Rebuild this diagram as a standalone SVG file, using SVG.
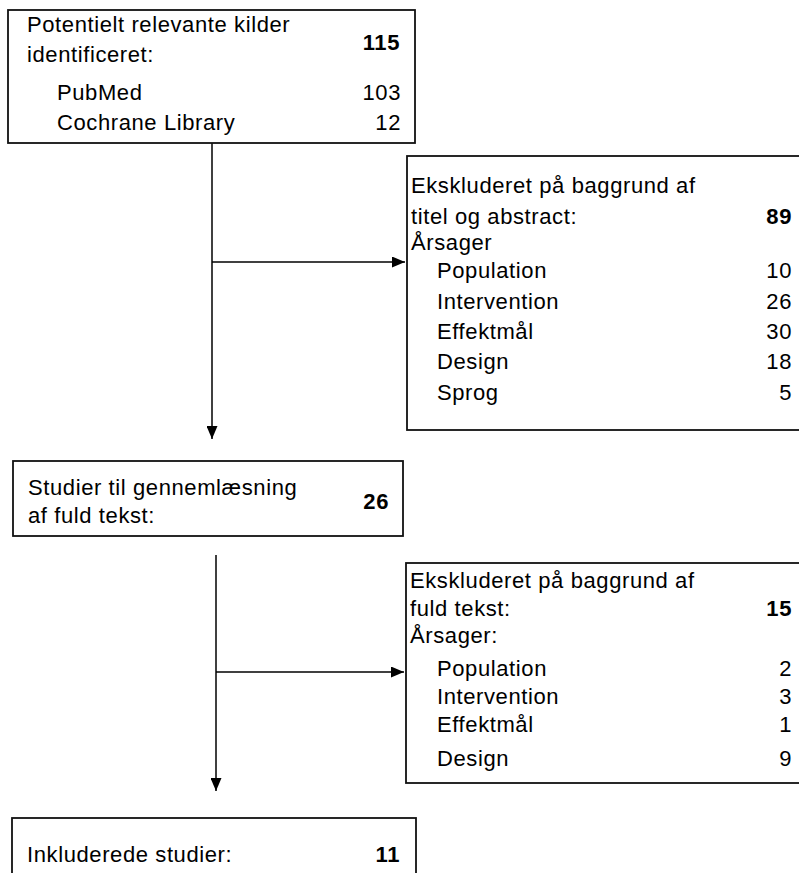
<svg xmlns="http://www.w3.org/2000/svg" width="799" height="873" viewBox="0 0 799 873">
<style>
.box{fill:#fff;stroke:#111;stroke-width:1.8}
text{font-family:"Liberation Sans",Arial,sans-serif;font-size:22px;fill:#000;letter-spacing:0.6px}
.b{font-weight:bold}
.r{text-anchor:end}
.ln{stroke:#000;stroke-width:1.5;fill:none}
</style>
<defs>
<marker id="ah" viewBox="0 0 13 11" refX="13" refY="5.5" markerWidth="13" markerHeight="11" markerUnits="userSpaceOnUse" orient="auto">
<path d="M0,0 L13,5.5 L0,11 Z" fill="#000"/>
</marker>
</defs>
<rect width="799" height="873" fill="#fff"/>
<g id="connectors">
<line class="ln" x1="212" y1="143" x2="212" y2="439" marker-end="url(#ah)"/>
<line class="ln" x1="212" y1="262" x2="405" y2="262" marker-end="url(#ah)"/>
<line class="ln" x1="216" y1="555" x2="216" y2="791" marker-end="url(#ah)"/>
<line class="ln" x1="216" y1="672" x2="404" y2="672" marker-end="url(#ah)"/>
</g>
<g id="n1">
<rect class="box" x="8" y="10" width="407" height="133"/>
<text x="27" y="32">Potentielt relevante kilder</text>
<text x="27" y="62">identificeret:</text>
<text class="b r" x="400" y="50">115</text>
<text x="57" y="100">PubMed</text>
<text class="r" x="401" y="100">103</text>
<text x="57" y="130">Cochrane Library</text>
<text class="r" x="401" y="130">12</text>
</g>
<g id="n2">
<rect class="box" x="407" y="156" width="400" height="274"/>
<text x="411" y="193">Ekskluderet på baggrund af</text>
<text x="411" y="224">titel og abstract:</text>
<text class="b r" x="792" y="224">89</text>
<text x="411" y="250">Årsager</text>
<text x="437" y="278">Population</text>
<text class="r" x="792" y="278">10</text>
<text x="437" y="309">Intervention</text>
<text class="r" x="792" y="309">26</text>
<text x="437" y="339">Effektmål</text>
<text class="r" x="792" y="339">30</text>
<text x="437" y="369">Design</text>
<text class="r" x="792" y="369">18</text>
<text x="437" y="400">Sprog</text>
<text class="r" x="792" y="400">5</text>
</g>
<g id="n3">
<rect class="box" x="13" y="461" width="390" height="75"/>
<text x="28" y="495">Studier til gennemlæsning</text>
<text x="28" y="523">af fuld tekst:</text>
<text class="b r" x="389" y="509">26</text>
</g>
<g id="n4">
<rect class="box" x="406" y="563" width="400" height="220"/>
<text x="410" y="588">Ekskluderet på baggrund af</text>
<text x="410" y="616">fuld tekst:</text>
<text class="b r" x="792" y="616">15</text>
<text x="410" y="643">Årsager:</text>
<text x="437" y="676">Population</text>
<text class="r" x="792" y="676">2</text>
<text x="437" y="704">Intervention</text>
<text class="r" x="792" y="704">3</text>
<text x="437" y="732">Effektmål</text>
<text class="r" x="792" y="732">1</text>
<text x="437" y="766">Design</text>
<text class="r" x="792" y="766">9</text>
</g>
<g id="n5">
<rect class="box" x="12" y="818" width="404" height="80"/>
<text x="27" y="862">Inkluderede studier:</text>
<text class="b r" x="400" y="862">11</text>
</g>
</svg>
